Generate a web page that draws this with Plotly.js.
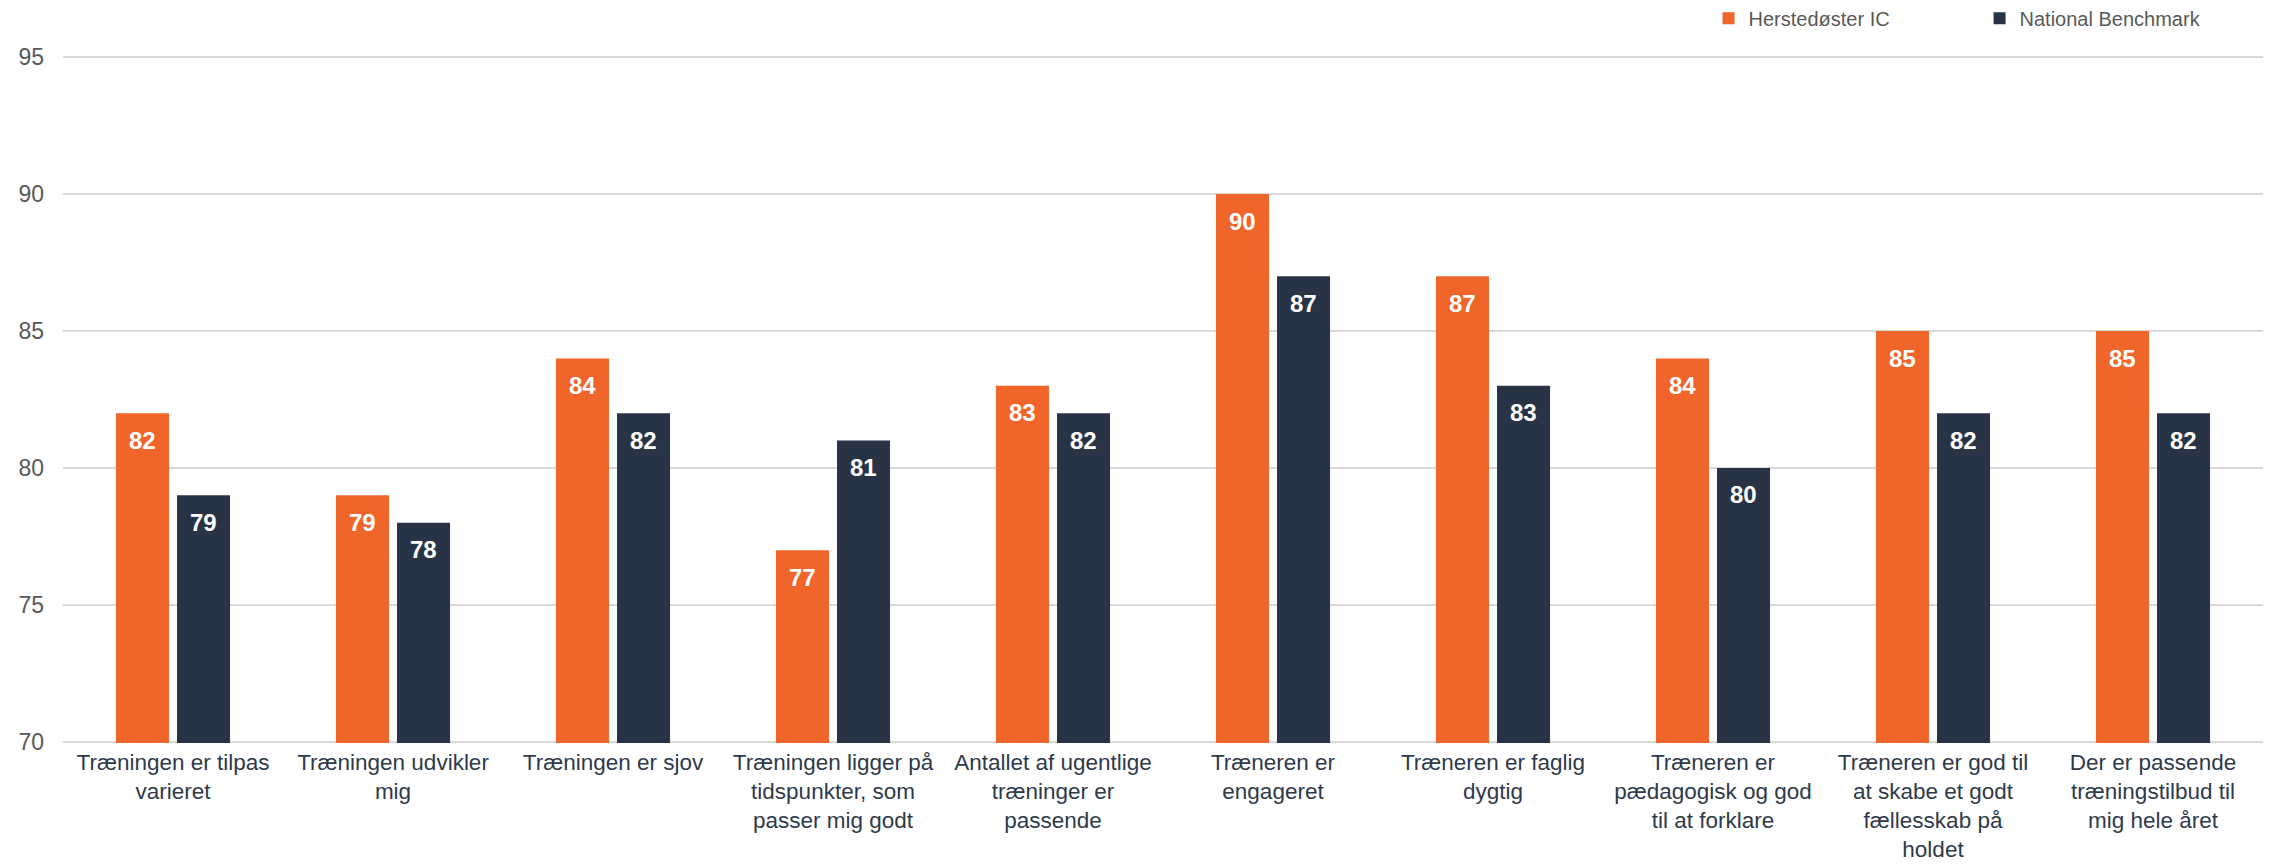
<!DOCTYPE html>
<html>
<head>
<meta charset="utf-8">
<script src="https://cdn.plot.ly/plotly-3.0.1.min.js"></script>
<style>html,body{margin:0;padding:0;background:#fff;}#chart{width:2272px;height:866px;}</style>
</head>
<body>
<div id="chart"></div>
<script>
const categories = [
  "Træningen er tilpas<br>varieret",
  "Træningen udvikler<br>mig",
  "Træningen er sjov",
  "Træningen ligger på<br>tidspunkter, som<br>passer mig godt",
  "Antallet af ugentlige<br>træninger er<br>passende",
  "Træneren er<br>engageret",
  "Træneren er faglig<br>dygtig",
  "Træneren er<br>pædagogisk og god<br>til at forklare",
  "Træneren er god til<br>at skabe et godt<br>fællesskab på<br>holdet",
  "Der er passende<br>træningstilbud til<br>mig hele året"
];
const seriesNames = ["Herstedøster IC", "National Benchmark"];
const herstedoster = [82, 79, 84, 77, 83, 90, 87, 84, 85, 85];
const national = [79, 78, 82, 81, 82, 87, 83, 80, 82, 82];
const yTicks = [70, 75, 80, 85, 90, 95];

const colors = ["#F0652A", "#283445"];
const W = 2272, H = 866;
const margin = {l: 63, r: 9, t: 56, b: 123};
const plotW = W - margin.l - margin.r;
const bargap = 0.445;
const catW = plotW / categories.length;
const slot = catW * (1 - bargap) / 2;

const traces = [herstedoster, national].map((vals, i) => ({
  type: 'bar',
  name: seriesNames[i],
  x: categories,
  y: vals,
  marker: {color: colors[i], line: {width: 0}},
  hoverinfo: 'none'
}));

const annotations = [];
[herstedoster, national].forEach((vals, i) => {
  vals.forEach((v, j) => {
    annotations.push({
      x: categories[j], y: v, xref: 'x', yref: 'y',
      text: String(v), showarrow: false,
      xshift: (i === 0 ? -1 : 1) * slot / 2,
      yshift: -27, yanchor: 'middle', xanchor: 'center',
      font: {family: 'Liberation Sans, Arial, sans-serif', size: 24, color: '#FFFFFF', weight: 'bold'}
    });
  });
});

const layout = {
  width: W, height: H,
  margin: margin,
  paper_bgcolor: '#FFFFFF', plot_bgcolor: '#FFFFFF',
  barmode: 'group', bargap: bargap, bargroupgap: 0.131,
  font: {family: 'Liberation Sans, Arial, sans-serif'},
  showlegend: true,
  legend: {
    orientation: 'h', xref: 'container', yref: 'container',
    x: 0.752, y: 0.979, xanchor: 'left', yanchor: 'middle',
    font: {size: 20, color: '#595959'}, entrywidth: 226, entrywidthmode: 'pixels',
    traceorder: 'normal', bgcolor: 'rgba(0,0,0,0)'
  },
  xaxis: {
    type: 'category', showgrid: false, zeroline: false, showline: false,
    ticks: '', tickfont: {size: 22.5, color: '#2F3A4A'}, tickangle: 0, automargin: false,
    ticklabelstandoff: 3
  },
  yaxis: {
    range: [69.96, 95.04], tickvals: yTicks, ticktext: yTicks.map(String),
    showgrid: true, gridcolor: '#D9D9D9', gridwidth: 2, zeroline: false, showline: false,
    ticks: '', tickfont: {size: 23, color: '#595959'}, automargin: false, ticklabelstandoff: 18
  },
  annotations: annotations
};

Plotly.newPlot('chart', traces, layout, {displayModeBar: false, staticPlot: true});
</script>
</body>
</html>
